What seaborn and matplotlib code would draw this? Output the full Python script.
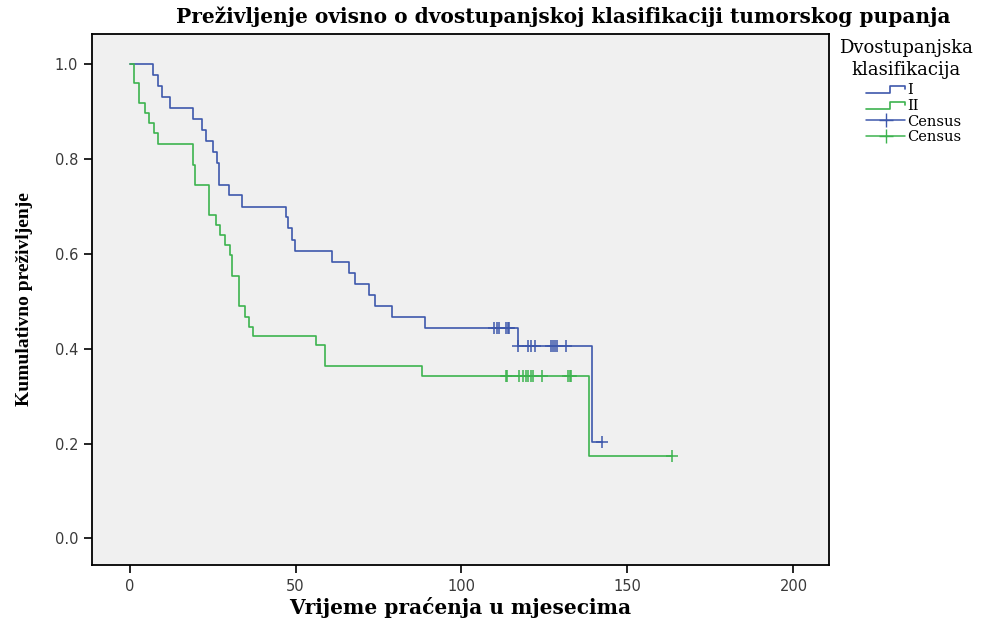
import numpy as np
import pandas as pd
import matplotlib
matplotlib.use("Agg")
import matplotlib.pyplot as plt
from matplotlib.lines import Line2D
from matplotlib.legend_handler import HandlerBase
import seaborn as sns

# ---------------- data ----------------
groups = ["I", "II"]
blue_event_t = [7.0, 8.5, 9.9, 12.1, 19.1, 21.7, 22.9, 25.0, 26.4, 26.9, 30.0, 34.0,
                47.1, 47.8, 48.8, 49.8, 61.1, 66.0, 68.0, 72.0, 74.0, 79.1, 89.1,
                117.0, 139.2]
blue_event_s = [0.978, 0.955, 0.931, 0.908, 0.885, 0.862, 0.839, 0.815, 0.792, 0.746,
                0.724, 0.700, 0.677, 0.654, 0.630, 0.607, 0.584, 0.560, 0.537, 0.514,
                0.491, 0.467, 0.444, 0.406, 0.203]
blue_cens_t = [109.8, 110.6, 111.4, 113.3, 113.9, 114.4, 117.0, 120.0, 121.0, 122.1,
               127.1, 127.7, 128.3, 128.9, 131.4, 142.2]

green_event_t = [1.5, 2.8, 4.6, 6.0, 7.3, 8.6, 19.1, 19.8, 23.9, 26.0, 27.4, 28.7,
                 30.2, 31.0, 33.0, 34.7, 36.0, 37.1, 56.2, 58.9, 88.1, 138.5]
green_event_s = [0.961, 0.918, 0.897, 0.876, 0.855, 0.832, 0.788, 0.746, 0.683, 0.662,
                 0.641, 0.620, 0.597, 0.554, 0.491, 0.468, 0.447, 0.428, 0.407, 0.364,
                 0.343, 0.173]
green_cens_t = [113.3, 113.8, 117.3, 118.6, 119.3, 120.0, 120.8, 121.6, 124.1,
                132.1, 132.7, 133.1, 163.3]

x_ticks = [0, 50, 100, 150, 200]
y_ticks = [0.0, 0.2, 0.4, 0.6, 0.8, 1.0]

title = "Preživljenje ovisno o dvostupanjskoj klasifikaciji tumorskog pupanja"
xlabel = "Vrijeme praćenja u mjesecima"
ylabel = "Kumulativno preživljenje"
legend_title = "Dvostupanjska\nklasifikacija"
censor_label = "Census"

colors = {"I": "#3E58AC", "II": "#3DB34F"}

# ---------------- build tables ----------------
def curve(times, surv, cens):
    end = max(max(times), max(cens))
    x = [0.0] + list(times) + [end]
    y = [1.0] + list(surv) + [surv[-1]]
    return x, y

def cens_levels(times, surv, cens):
    idx = np.searchsorted(np.array(times), np.array(cens), side="right")
    lev = np.concatenate([[1.0], surv])
    return lev[idx]

bx, by = curve(blue_event_t, blue_event_s, blue_cens_t)
gx, gy = curve(green_event_t, green_event_s, green_cens_t)
curves = pd.DataFrame({
    "t": bx + gx,
    "s": by + gy,
    "grp": ["I"] * len(bx) + ["II"] * len(gx),
})
cens = pd.DataFrame({
    "t": blue_cens_t + green_cens_t,
    "s": list(cens_levels(blue_event_t, blue_event_s, blue_cens_t))
         + list(cens_levels(green_event_t, green_event_s, green_cens_t)),
    "grp": ["I"] * len(blue_cens_t) + ["II"] * len(green_cens_t),
})

# ---------------- plot ----------------
sns.set_theme(style="white")
plt.rcParams["font.family"] = ["DejaVu Sans"]
plt.rcParams["text.color"] = "black"

fig = plt.figure(figsize=(9.96, 6.23), dpi=100)
ax = fig.add_axes([92 / 996, 1 - 565 / 623, (829 - 92) / 996, (565 - 34) / 623])
ax.set_facecolor("#F0F0F0")

for g in groups:
    sub = curves[curves.grp == g]
    sns.lineplot(data=sub, x="t", y="s", ax=ax, color=colors[g], lw=1.2,
                 drawstyle="steps-post", estimator=None, sort=False, legend=False)
for g in groups:
    sub = cens[cens.grp == g]
    sns.scatterplot(data=sub, x="t", y="s", ax=ax, color=colors[g], marker="+",
                    s=70, linewidth=1.1, legend=False, zorder=3)

ax.set_xlim(-11.3, 210.7)
ax.set_ylim(-0.056, 1.064)
ax.set_xticks(x_ticks)
ax.set_xticklabels([str(v) for v in x_ticks])
ax.set_yticks(y_ticks)
ax.set_yticklabels([f"{v:.1f}" for v in y_ticks])
ax.tick_params(axis="both", which="major", direction="out", length=6, width=1.2,
               color="black", labelsize=10.5, labelcolor="#3a3a3a",
               bottom=True, left=True, pad=4)
for sp in ax.spines.values():
    sp.set_color("black")
    sp.set_linewidth(1.3)

ax.set_xlabel(xlabel, fontsize=14.5, fontweight="bold", family="DejaVu Serif",
              color="black")
ax.xaxis.set_label_coords(0.5, -(607 - 565) / (565 - 34))
ax.xaxis.label.set_va("center")
ax.set_ylabel(ylabel, fontsize=14, fontweight="bold", family="Liberation Serif",
              color="black")
ax.yaxis.set_label_coords((25 - 92) / (829 - 92), 0.5)
ax.yaxis.label.set_va("center")

fig.text(563 / 996, 1 - 17 / 623, title, ha="center", va="center",
         fontsize=14.5, fontweight="bold", family="DejaVu Serif", color="black")

# legend title
fig.text(906 / 996, 1 - 59 / 623, legend_title, ha="center", va="center",
         multialignment="center", linespacing=1.35,
         fontsize=13, family="DejaVu Serif", color="black")


class StepHandler(HandlerBase):
    def create_artists(self, legend, orig_handle, xdescent, ydescent, width, height,
                       fontsize, trans):
        x0 = -xdescent
        y0 = -ydescent
        xs = [x0, x0 + 0.6 * width, x0 + 0.6 * width, x0 + width, x0 + width]
        ys = [y0 + 0.1 * height, y0 + 0.1 * height, y0 + 0.75 * height,
              y0 + 0.75 * height, y0 + 0.5 * height]
        ln = Line2D(xs, ys, color=orig_handle.get_color(), lw=1.2)
        ln.set_transform(trans)
        return [ln]


h_I = Line2D([], [], color=colors["I"])
h_II = Line2D([], [], color=colors["II"])
h_c1 = Line2D([0], [0], color=colors["I"], marker="+", markersize=10, lw=1.1)
h_c2 = Line2D([0], [0], color=colors["II"], marker="+", markersize=10, lw=1.1)
leg = ax.legend([h_I, h_II, h_c1, h_c2], ["I", "II", censor_label, censor_label],
                handler_map={h_I: StepHandler(), h_II: StepHandler()},
                loc="upper left",
                bbox_to_anchor=(866 / 996, 1 - 83 / 623),
                bbox_transform=fig.transFigure, frameon=False,
                prop={"family": "DejaVu Serif", "size": 10.5},
                handlelength=2.7, handletextpad=0.15, labelspacing=0.12,
                borderaxespad=0.0, borderpad=0.0)
for t in leg.get_texts():
    t.set_color("black")

fig.savefig("out.png", dpi=100, facecolor="white")
